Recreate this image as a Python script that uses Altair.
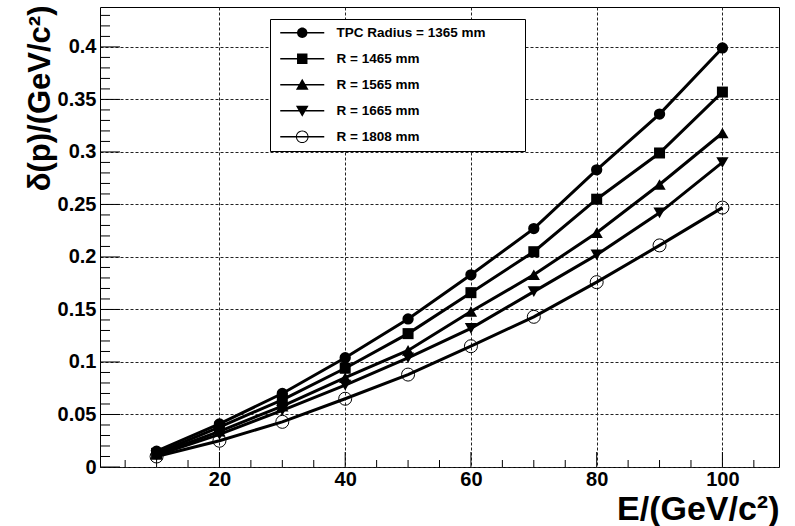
import altair as alt
import pandas as pd

# ---------------- data ----------------
energy = [10, 20, 30, 40, 50, 60, 70, 80, 90, 100]
series_names = ["TPC Radius = 1365 mm", "R = 1465 mm", "R = 1565 mm",
                "R = 1665 mm", "R = 1808 mm"]
r1365 = [0.015, 0.041, 0.070, 0.104, 0.141, 0.183, 0.227, 0.283, 0.336, 0.399]
r1465 = [0.013, 0.038, 0.064, 0.094, 0.127, 0.166, 0.205, 0.255, 0.299, 0.357]
r1565 = [0.012, 0.034, 0.058, 0.085, 0.111, 0.148, 0.183, 0.223, 0.269, 0.318]
r1665 = [0.011, 0.031, 0.054, 0.078, 0.104, 0.132, 0.167, 0.202, 0.242, 0.290]
r1808 = [0.010, 0.025, 0.043, 0.065, 0.088, 0.115, 0.143, 0.176, 0.211, 0.247]

x_major = [20, 40, 60, 80, 100]
x_minor = [5, 10, 15, 25, 30, 35, 45, 50, 55, 65, 70, 75, 85, 90, 95, 105]
y_major = [0, 0.05, 0.1, 0.15, 0.2, 0.25, 0.3, 0.35, 0.4]
y_minor = [0.01, 0.02, 0.03, 0.04, 0.06, 0.07, 0.08, 0.09, 0.11, 0.12, 0.13,
           0.14, 0.16, 0.17, 0.18, 0.19, 0.21, 0.22, 0.23, 0.24, 0.26, 0.27,
           0.28, 0.29, 0.31, 0.32, 0.33, 0.34, 0.36, 0.37, 0.38, 0.39, 0.41,
           0.42, 0.43]

all_values = [r1365, r1465, r1565, r1665, r1808]
rows = []
for name, vals in zip(series_names, all_values):
    for e, v in zip(energy, vals):
        rows.append({"E": e, "v": v, "series": name})
df = pd.DataFrame(rows)

# ---------------- style ----------------
FONT = "Liberation Sans"
W, H = 679, 460
xscale = alt.Scale(domain=[1, 109], nice=False, zero=False)
yscale = alt.Scale(domain=[0, 0.438], nice=False, zero=False)

x_axis = alt.Axis(
    values=x_major, grid=True, gridDash=[3, 2], gridColor="#222",
    gridWidth=1, ticks=False, tickSize=0, domain=False,
    labelFont=FONT, labelFontSize=20, labelFontWeight="bold",
    labelColor="black", labelPadding=2, labelFlush=False,
    title="E/(GeV/c²)", titleFont=FONT, titleFontSize=34,
    titleFontWeight="bold", titleColor="black", titleAlign="right",
    titleAnchor="end", titleX=W, titleY=52, titleBaseline="alphabetic")
y_axis = alt.Axis(
    values=y_major, format=".2~f", grid=True, gridDash=[3, 2],
    gridColor="#222", gridWidth=1, ticks=False, tickSize=0, domain=False,
    labelFont=FONT, labelFontSize=20, labelFontWeight="bold",
    labelColor="black", labelPadding=4, labelFlush=False,
    title="δ(p)/(GeV/c²)", titleFont=FONT, titleFontSize=31,
    titleFontWeight="bold", titleColor="black", titleAngle=270,
    titleAlign="right", titleX=-51, titleY=-2,
    titleBaseline="alphabetic")


def circ(r, rev=False):
    k = round(0.5523 * r, 4)
    if not rev:
        return (f"M {r} 0 C {r} {k} {k} {r} 0 {r} C {-k} {r} {-r} {k} {-r} 0 "
                f"C {-r} {-k} {-k} {-r} 0 {-r} C {k} {-r} {r} {-k} {r} 0 Z ")
    return (f"M {r} 0 C {r} {-k} {k} {-r} 0 {-r} C {-k} {-r} {-r} {-k} {-r} 0 "
            f"C {-r} {k} {-k} {r} 0 {r} C {k} {r} {r} {k} {r} 0 Z ")


line_seg = "M -4 -0.14 L 4 -0.14 L 4 0.14 L -4 0.14 Z "
legend_paths = [
    line_seg + circ(0.95),
    line_seg + "M -0.95 -0.95 L 0.95 -0.95 L 0.95 0.95 L -0.95 0.95 Z",
    line_seg + "M 0 -1.1 L 1.15 0.9 L -1.15 0.9 Z",
    line_seg + "M 0 1.1 L -1.15 -0.9 L 1.15 -0.9 Z",
    line_seg + circ(1.15) + circ(0.97, rev=True),
]

# marker style per series: (shape, filled, size)
marker_styles = [("circle", True, 128), ("square", True, 121),
                 ("triangle-up", True, 150), ("triangle-down", True, 150),
                 ("circle", False, 169)]

# ---------------- layers ----------------
lines = alt.Chart(df).mark_line(color="black", strokeWidth=3).encode(
    x=alt.X("E:Q", scale=xscale, axis=x_axis),
    y=alt.Y("v:Q", scale=yscale, axis=y_axis),
    detail="series:N",
    order="E:Q",
)

xt_minor = alt.Chart(pd.DataFrame({"t": x_minor})).mark_rule(
    color="black", strokeWidth=1).encode(
    x=alt.X("t:Q", scale=xscale, axis=x_axis),
    y=alt.value(H), y2=alt.value(H - 7))
xt_major = alt.Chart(pd.DataFrame({"t": x_major})).mark_rule(
    color="black", strokeWidth=1).encode(
    x=alt.X("t:Q", scale=xscale, axis=x_axis),
    y=alt.value(H), y2=alt.value(H - 15))
yt_minor = alt.Chart(pd.DataFrame({"t": y_minor})).mark_rule(
    color="black", strokeWidth=1).encode(
    y=alt.Y("t:Q", scale=yscale, axis=y_axis),
    x=alt.value(0), x2=alt.value(10))
yt_major = alt.Chart(pd.DataFrame({"t": y_major})).mark_rule(
    color="black", strokeWidth=1).encode(
    y=alt.Y("t:Q", scale=yscale, axis=y_axis),
    x=alt.value(0), x2=alt.value(20))

point_layers = []
for name, (shp, filled, sz) in zip(series_names, marker_styles):
    if filled:
        mk = alt.Chart(df).mark_point(shape=shp, filled=True, size=sz,
                                      color="black", opacity=1)
    else:
        mk = alt.Chart(df).mark_point(shape=shp, filled=False, size=sz,
                                      color="black", strokeWidth=1, opacity=1)
    point_layers.append(mk.transform_filter(alt.datum.series == name).encode(
        x=alt.X("E:Q", scale=xscale, axis=x_axis),
        y=alt.Y("v:Q", scale=yscale, axis=y_axis)))

# invisible carrier of the legend (line + marker symbols)
legend_layer = alt.Chart(df).mark_point(filled=True, color="black",
                                        opacity=0).encode(
    x=alt.X("E:Q", scale=xscale, axis=x_axis),
    y=alt.Y("v:Q", scale=yscale, axis=y_axis),
    shape=alt.Shape("series:N", scale=alt.Scale(
        domain=series_names, range=legend_paths),
        legend=alt.Legend(
            title=".", titleOrient="right", titleFontSize=1, titleOpacity=0,
            titlePadding=32,
            orient="none", legendX=170, legendY=12,
            fillColor="white", strokeColor="black", padding=7,
            symbolSize=121, symbolStrokeWidth=0, symbolOpacity=1,
            symbolFillColor="black", symbolOffset=18.5,
            labelOffset=27.5, rowPadding=11,
            labelFont=FONT, labelFontSize=13.5, labelFontWeight="bold",
            labelColor="black")),
)

chart = alt.layer(lines, xt_minor, xt_major, yt_minor, yt_major,
                  *point_layers, legend_layer).properties(
    width=W, height=H,
    padding={"left": 100, "top": 7, "right": 16, "bottom": 59},
    autosize=alt.AutoSizeParams(type="none"),
    background="white",
).configure_view(stroke="black", strokeWidth=1)

chart.save("out.html", embed_options={"renderer": "svg", "actions": False})
